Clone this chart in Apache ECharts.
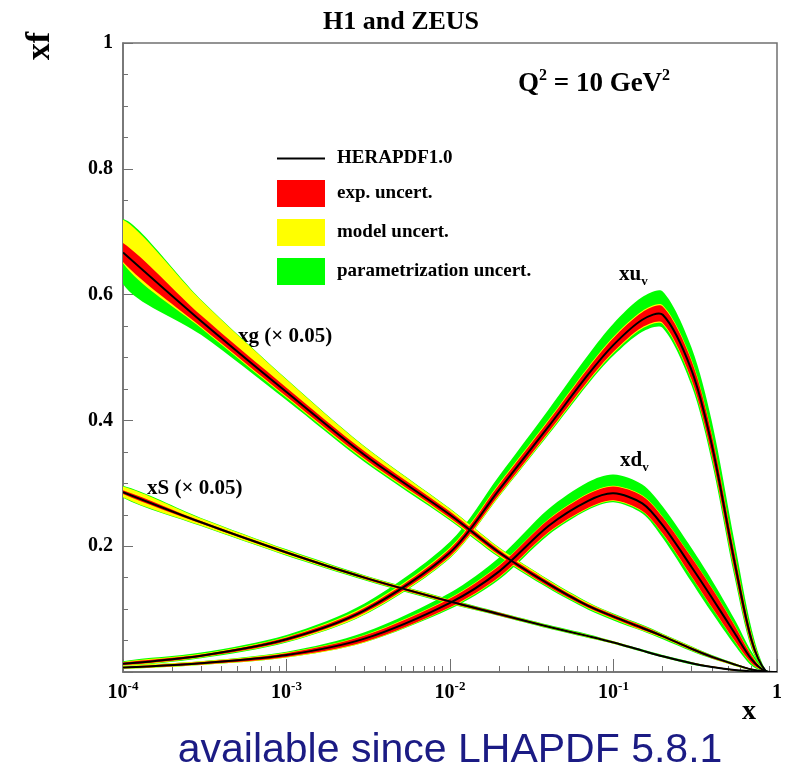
<!DOCTYPE html>
<html>
<head>
<meta charset="utf-8">
<script src="https://cdn.jsdelivr.net/npm/echarts@6/dist/echarts.min.js"></script>
<style>
html, body { margin: 0; padding: 0; background: #fff; }
#chart { width: 785px; height: 775px; }
</style>
</head>
<body>
<div id="chart"></div>
<script>
// x points shared by all curves
const xGrid = [1e-4, 3e-4, 1e-3, 3e-3, 0.01, 0.02, 0.04, 0.07, 0.1, 0.15, 0.2, 0.3, 0.4, 0.55, 0.7, 0.85, 1];

// xu_v : central value, band edges given as offsets from central
const xuvCentral = [0.013, 0.026, 0.052, 0.098, 0.19, 0.29, 0.39, 0.473, 0.52, 0.56, 0.568, 0.48, 0.36, 0.175, 0.05, 0.002, 0];
const xuvExp     = [0.002, 0.002, 0.003, 0.004, 0.006, 0.008, 0.009, 0.010, 0.011, 0.012, 0.013, 0.015, 0.016, 0.014, 0.008, 0, 0];
const xuvModUp   = [0.003, 0.003, 0.004, 0.006, 0.008, 0.010, 0.011, 0.012, 0.013, 0.014, 0.015, 0.017, 0.018, 0.016, 0.010, 0.001, 0];
const xuvModDn   = [0.003, 0.003, 0.004, 0.006, 0.008, 0.010, 0.011, 0.012, 0.013, 0.014, 0.015, 0.017, 0.018, 0.016, 0.010, 0.001, 0];
const xuvParUp   = [0.004, 0.005, 0.007, 0.011, 0.017, 0.022, 0.027, 0.031, 0.034, 0.036, 0.037, 0.036, 0.038, 0.032, 0.018, 0.002, 0];
const xuvParDn   = [0.003, 0.004, 0.005, 0.007, 0.009, 0.011, 0.013, 0.015, 0.017, 0.019, 0.021, 0.024, 0.026, 0.024, 0.014, 0.001, 0];

// xd_v
const xdvCentral = [0.007, 0.014, 0.027, 0.053, 0.11, 0.16, 0.232, 0.272, 0.284, 0.268, 0.233, 0.167, 0.118, 0.062, 0.02, 0.001, 0];
const xdvExp     = [0.001, 0.002, 0.003, 0.005, 0.007, 0.009, 0.010, 0.011, 0.011, 0.012, 0.013, 0.015, 0.015, 0.012, 0.006, 0, 0];
const xdvModUp   = [0.002, 0.003, 0.004, 0.006, 0.008, 0.010, 0.011, 0.012, 0.012, 0.013, 0.014, 0.016, 0.016, 0.013, 0.007, 0.001, 0];
const xdvModDn   = [0.002, 0.003, 0.004, 0.006, 0.008, 0.010, 0.011, 0.012, 0.012, 0.013, 0.014, 0.016, 0.016, 0.013, 0.007, 0.001, 0];
const xdvParUp   = [0.002, 0.003, 0.005, 0.010, 0.016, 0.022, 0.027, 0.030, 0.030, 0.030, 0.030, 0.030, 0.028, 0.022, 0.012, 0.002, 0];
const xdvParDn   = [0.002, 0.003, 0.004, 0.006, 0.010, 0.013, 0.014, 0.014, 0.014, 0.016, 0.020, 0.024, 0.024, 0.019, 0.010, 0.001, 0];

// xg (x 0.05)
const xgCentral  = [0.667, 0.558, 0.445, 0.345, 0.25, 0.19, 0.14, 0.105, 0.088, 0.07, 0.057, 0.037, 0.024, 0.012, 0.004, 0.001, 0];
const xgExp      = [0.015, 0.009, 0.007, 0.006, 0.005, 0.004, 0.004, 0.003, 0.003, 0.003, 0.002, 0.002, 0.002, 0.001, 0.001, 0, 0];
const xgModUp    = [0.052, 0.033, 0.020, 0.013, 0.009, 0.007, 0.006, 0.005, 0.004, 0.004, 0.003, 0.003, 0.002, 0.002, 0.001, 0, 0];
const xgModDn    = [0.017, 0.011, 0.009, 0.008, 0.007, 0.006, 0.005, 0.004, 0.004, 0.004, 0.003, 0.003, 0.002, 0.002, 0.001, 0, 0];
const xgParUp    = [0.053, 0.034, 0.021, 0.014, 0.010, 0.008, 0.007, 0.006, 0.005, 0.005, 0.004, 0.004, 0.003, 0.002, 0.001, 0, 0];
const xgParDn    = [0.050, 0.022, 0.013, 0.011, 0.009, 0.008, 0.007, 0.006, 0.006, 0.005, 0.005, 0.004, 0.003, 0.002, 0.001, 0, 0];

// xS (x 0.05)
const xsCentral  = [0.286, 0.238, 0.19, 0.15, 0.112, 0.092, 0.072, 0.057, 0.047, 0.034, 0.025, 0.014, 0.008, 0.003, 0.001, 0, 0];
const xsExp      = [0.003, 0.002, 0.002, 0.002, 0.002, 0.002, 0.001, 0.001, 0.001, 0.001, 0.001, 0.001, 0.001, 0.001, 0, 0, 0];
const xsModUp    = [0.009, 0.006, 0.004, 0.003, 0.003, 0.002, 0.002, 0.002, 0.002, 0.001, 0.001, 0.001, 0.001, 0.001, 0, 0, 0];
const xsModDn    = [0.008, 0.005, 0.004, 0.003, 0.003, 0.002, 0.002, 0.002, 0.002, 0.001, 0.001, 0.001, 0.001, 0.001, 0, 0, 0];
const xsParUp    = [0.010, 0.007, 0.005, 0.004, 0.004, 0.003, 0.003, 0.003, 0.002, 0.002, 0.002, 0.002, 0.001, 0.001, 0.001, 0, 0];
const xsParDn    = [0.009, 0.006, 0.005, 0.004, 0.004, 0.003, 0.003, 0.003, 0.002, 0.002, 0.002, 0.002, 0.001, 0.001, 0.001, 0, 0];

const xMinor = [];
for (let d = 1e-4; d < 1; d *= 10) {
  for (let m = 2; m <= 9; m++) xMinor.push(+(m * d).toPrecision(3));
}

const SERIF = '"Liberation Serif", "Times New Roman", serif';
const GREY = '#707070';

const curves = [
  { c: xuvCentral, e: xuvExp, mu: xuvModUp, md: xuvModDn, pu: xuvParUp, pd: xuvParDn },
  { c: xdvCentral, e: xdvExp, mu: xdvModUp, md: xdvModDn, pu: xdvParUp, pd: xdvParDn },
  { c: xgCentral,  e: xgExp,  mu: xgModUp,  md: xgModDn,  pu: xgParUp,  pd: xgParDn },
  { c: xsCentral,  e: xsExp,  mu: xsModUp,  md: xsModDn,  pu: xsParUp,  pd: xsParDn }
];

function cleanPts(pts) {
  return pts.filter((p, i) => i === 0 || Math.abs(p[0] - pts[i - 1][0]) > 0.3 || Math.abs(p[1] - pts[i - 1][1]) > 0.3);
}

function bandSeries(name, color, lo, hi) {
  return {
    type: 'custom', name: name, clip: true, silent: true,
    itemStyle: { color: color },
    encode: { x: 0, y: 1 },
    data: [[xGrid[4], hi[4]]],
    renderItem: function (params, api) {
      const pts = [];
      for (let i = 0; i < xGrid.length; i++) pts.push(api.coord([xGrid[i], hi[i]]));
      for (let i = xGrid.length - 1; i >= 0; i--) pts.push(api.coord([xGrid[i], lo[i]]));
      return { type: 'polygon', shape: { points: cleanPts(pts), smooth: 0.3 }, style: { fill: color } };
    }
  };
}

function lineSeries(c) {
  return {
    type: 'custom', name: 'HERAPDF1.0', clip: true, silent: true,
    itemStyle: { color: '#000' },
    encode: { x: 0, y: 1 },
    data: [[xGrid[4], c[4]]],
    renderItem: function (params, api) {
      const pts = xGrid.map((x, i) => api.coord([x, c[i]]));
      return { type: 'polyline', shape: { points: cleanPts(pts), smooth: 0.3 }, style: { stroke: '#000', lineWidth: 2, fill: null } };
    }
  };
}

const series = [];
curves.forEach(k => {
  series.push(bandSeries('parametrization uncert.', '#00ff00',
    k.c.map((v, i) => v - k.pd[i]), k.c.map((v, i) => v + k.pu[i])));
});
curves.forEach(k => {
  series.push(bandSeries('model uncert.', '#ffff00',
    k.c.map((v, i) => v - k.md[i]), k.c.map((v, i) => v + k.mu[i])));
});
curves.forEach(k => {
  series.push(bandSeries('exp. uncert.', '#ff0000',
    k.c.map((v, i) => v - k.e[i]), k.c.map((v, i) => v + k.e[i])));
});
curves.forEach(k => series.push(lineSeries(k.c)));

const chart = echarts.init(document.getElementById('chart'));

const txt = (x, y, text, size, extra) => Object.assign({
  type: 'text', x: x, y: y, silent: true,
  style: Object.assign({
    text: text, fill: '#000', fontFamily: SERIF, fontWeight: 'bold', fontSize: size,
    align: 'left', verticalAlign: 'middle', textAlign: 'left', textVerticalAlign: 'middle'
  }, extra || {})
});

const supRich = (base, sup, lh) => ({
  b: { fontFamily: SERIF, fontWeight: 'bold', fontSize: base, lineHeight: lh, fill: '#000' },
  s: { fontFamily: SERIF, fontWeight: 'bold', fontSize: sup, lineHeight: sup, verticalAlign: 'top', fill: '#000' },
  d: { fontFamily: SERIF, fontWeight: 'bold', fontSize: sup, lineHeight: sup, verticalAlign: 'bottom', fill: '#000' }
});

const yTitle = txt(40, 46, 'xf', 34, { align: 'center', textAlign: 'center' });
yTitle.rotation = Math.PI / 2;

chart.setOption({
  animation: false,
  backgroundColor: '#fff',
  grid: { left: 123, right: 7, top: 43, bottom: 103, show: true, borderColor: GREY, borderWidth: 1.5 },
  legend: {
    left: 272, top: 144, orient: 'vertical',
    itemWidth: 48, itemHeight: 27, itemGap: 12,
    selectedMode: false,
    textStyle: { fontFamily: SERIF, fontWeight: 'bold', fontSize: 19, color: '#000', padding: [0, 0, 0, 7] },
    data: [
      { name: 'HERAPDF1.0', icon: 'path://M0,0H48V2H0Z' },
      { name: 'exp. uncert.', icon: 'rect' },
      { name: 'model uncert.', icon: 'rect' },
      { name: 'parametrization uncert.', icon: 'rect' }
    ]
  },
  xAxis: [{
    type: 'log', logBase: 10, min: 1e-4, max: 1,
    axisLine: { lineStyle: { color: GREY, width: 1.5 } },
    axisTick: { inside: true, length: 13, lineStyle: { color: GREY } },
    splitLine: { show: false },
    axisLabel: {
      margin: 8, color: '#000', fontFamily: SERIF, fontWeight: 'bold', fontSize: 20,
      formatter: v => v >= 1 ? '{b|1}' : '{b|10}{s|' + Math.round(Math.log10(v)) + '}',
      rich: supRich(20, 13, 26)
    }
  }, {
    type: 'log', logBase: 10, min: 1e-4, max: 1, position: 'bottom',
    axisLine: { show: false }, axisLabel: { show: false }, splitLine: { show: false },
    axisTick: { show: true, inside: true, length: 6, customValues: xMinor, lineStyle: { color: GREY } }
  }],
  yAxis: {
    type: 'value', min: 0, max: 1, interval: 0.2,
    axisLine: { show: true, lineStyle: { color: GREY, width: 1.5 } },
    axisTick: { show: true, inside: true, length: 10, lineStyle: { color: GREY } },
    minorTick: { show: true, splitNumber: 4, length: 5, lineStyle: { color: GREY } },
    splitLine: { show: false },
    axisLabel: {
      margin: 10, color: '#000', fontFamily: SERIF, fontWeight: 'bold', fontSize: 20,
      formatter: v => v === 0 ? '' : String(v)
    }
  },
  series: series,
  graphic: [
    txt(323, 22, 'H1 and ZEUS', 26),
    txt(518, 84, '{b|Q}{s|2}{b| = 10 GeV}{s|2}', 27, { rich: supRich(27, 16, 32) }),
    yTitle,
    txt(749, 712, 'x', 28, { align: 'center', textAlign: 'center' }),
    txt(619, 275, '{b|xu}{d|v}', 21, { rich: supRich(21, 13, 26) }),
    txt(620, 461, '{b|xd}{d|v}', 21, { rich: supRich(21, 13, 26) }),
    txt(238, 337, 'xg (\u00d7 0.05)', 21),
    txt(147, 489, 'xS (\u00d7 0.05)', 21),
    {
      type: 'text', x: 450, y: 751, silent: true,
      style: {
        text: 'available since LHAPDF 5.8.1', fill: '#1b1b84',
        fontFamily: '"Liberation Sans", Arial, sans-serif', fontSize: 41,
        align: 'center', verticalAlign: 'middle', textAlign: 'center', textVerticalAlign: 'middle'
      }
    }
  ]
});
</script>
</body>
</html>
